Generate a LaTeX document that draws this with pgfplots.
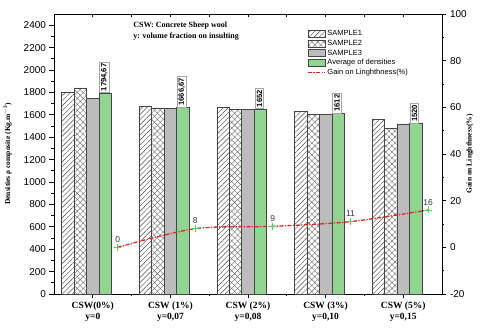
\documentclass[border=0pt]{standalone}
\usepackage{fontspec}
\setmainfont{Liberation Serif}
\setsansfont{Liberation Sans}
\usepackage{pgfplots}
\usepackage{pgfplotstable}
\pgfplotsset{compat=1.18}
\usetikzlibrary{patterns,patterns.meta}
\definecolor{barGray}{RGB}{188,188,188}
\definecolor{avgGreen}{RGB}{146,212,146}
\definecolor{gainRed}{RGB}{222,36,36}
\definecolor{markGreen}{RGB}{70,214,70}
\definecolor{edge}{RGB}{70,70,70}

\pgfplotstableread{
g s1 s2 s3 avg gain
0 1800 1840 1744 1794.67 0
1 1680 1662 1658 1666.67 8
2 1665 1645 1646 1652 9
3 1628 1600 1608 1612 11
4 1560 1482 1518 1520 16
}\datatable

\pgfplotsset{
  common/.style={
    at={(54pt,42pt)}, anchor=south west, scale only axis,
    width=388pt, height=280pt,
    xmin=-0.5, xmax=4.5,
    /pgf/number format/assume math mode=true,
    /pgf/number format/1000 sep={},
    ticklabel style={font=\sffamily\fontsize{10}{12}\selectfont},
    major tick length=4.5pt, minor tick length=2.5pt,
    every tick/.style={black, line width=0.7pt},
    axis line style={line width=0.9pt},
  },
  gainlegend/.style={legend image code/.code={\draw[#1] (0pt,0pt) -- (17pt,0pt);}},
  barlegend/.style={legend image code/.code={\draw[#1] (0pt,-3.6pt) rectangle (17pt,3.6pt);}},
}

\begin{document}
\begin{tikzpicture}
\path[use as bounding box] (0pt,0pt) rectangle (480pt,336pt);
% main axis (densities)
\begin{axis}[common,
  ymin=0, ymax=2500,
  axis x line*=bottom, axis y line*=left,
  tick align=outside,
  xtick={0,1,2,3,4}, minor x tick num=1,
  xticklabels={{CSW(0\%)\\y=0},{CSW (1\%)\\y=0,07},{CSW (2\%)\\y=0,08},{CSW (3\%)\\y=0,10},{CSW (5\%)\\y=0,15}},
  xticklabel style={font=\rmfamily\bfseries\fontsize{9.5}{10.5}\selectfont, align=center},
  ytick={0,200,...,2400}, minor y tick num=1,
  ylabel={Densities ρ composite (Kg.m\textsuperscript{$-$3})},
  ylabel style={font=\rmfamily\bfseries\fontsize{7.5}{9}\selectfont, at={(axis description cs:-0.119,0.5)}, anchor=center},
  clip=false,
  legend style={draw=none, fill=none, at={(0.652,0.948)}, anchor=north west,
    font=\sffamily\fontsize{7.5}{9}\selectfont, row sep=-1.2pt, inner sep=0pt,
    cells={anchor=west}},
  barlegend,
]
\addplot[ybar, bar width=0.16, bar shift=0pt, draw=edge, line width=0.6pt,
  pattern={Lines[angle=45,distance=3.6pt,line width=0.45pt]}, pattern color=edge]
  table[x expr=\thisrow{g}-0.32, y=s1] {\datatable};
\addlegendentry{SAMPLE1}
\addplot[ybar, bar width=0.16, bar shift=0pt, draw=edge, line width=0.6pt,
  pattern={Hatch[angle=45,distance=4.2pt,line width=0.4pt]}, pattern color=edge!80]
  table[x expr=\thisrow{g}-0.16, y=s2] {\datatable};
\addlegendentry{SAMPLE2}
\addplot[ybar, bar width=0.16, bar shift=0pt, draw=edge, line width=0.6pt, fill=barGray]
  table[x expr=\thisrow{g}, y=s3] {\datatable};
\addlegendentry{SAMPLE3}
\addplot[ybar, bar width=0.16, bar shift=0pt, draw=edge, line width=0.6pt, fill=avgGreen,
  nodes near coords,
  /pgf/number format/.cd, use comma, fixed, precision=2, 1000 sep={}, /pgfplots/.cd,
  every node near coord/.append style={rotate=90, anchor=west, draw=gray!70, fill=white,
    inner sep=1.5pt, line width=0.7pt, text=black, yshift=1pt, font=\sffamily\bfseries\fontsize{7.6}{8}\selectfont}]
  table[x expr=\thisrow{g}+0.16, y=avg] {\datatable};
\addlegendentry{Average of densities}
\addlegendimage{gainRed, line width=1.3pt, dash pattern=on 4pt off 1.5pt on 1.2pt off 1.5pt, gainlegend}
\addlegendentry{Gain on Linghthness(\%)}
\node[anchor=north west, align=left, font=\rmfamily\bfseries\fontsize{8}{10.5}\selectfont, inner sep=0pt]
  at (rel axis cs:0.204,0.972) {CSW: Concrete Sheep wool\\y: volume fraction on insulting};
\end{axis}
% top axis ticks
\begin{axis}[common,
  ymin=0, ymax=1,
  axis x line*=top, axis y line=none,
  tick align=inside,
  xtick={0,1,2,3,4}, minor x tick num=1, xticklabels={},
  major tick length=3pt, minor tick length=3pt,
]
\end{axis}
% right axis (gain)
\begin{axis}[common,
  ymin=-20, ymax=100,
  axis y line*=right, axis x line=none,
  tick align=outside,
  ytick={-20,0,...,100}, minor y tick num=1,
  ylabel={Gain on Linghthness(\%)},
  ylabel style={font=\rmfamily\bfseries\fontsize{7.5}{9}\selectfont, at={(axis description cs:1.072,0.5)}, anchor=center, rotate=0},
  clip=false,
]
\addplot[smooth, gainRed, line width=1.3pt, dash pattern=on 4pt off 1.5pt on 1.2pt off 1.5pt,
  mark=+, mark size=3.5pt, mark options={solid, markGreen, line width=0.9pt},
  nodes near coords,
  every node near coord/.append style={font=\sffamily\fontsize{8.5}{9}\selectfont, black!80, anchor=south, yshift=1pt}]
  table[x expr=\thisrow{g}+0.32, y=gain] {\datatable};
\end{axis}
\end{tikzpicture}
\end{document}
